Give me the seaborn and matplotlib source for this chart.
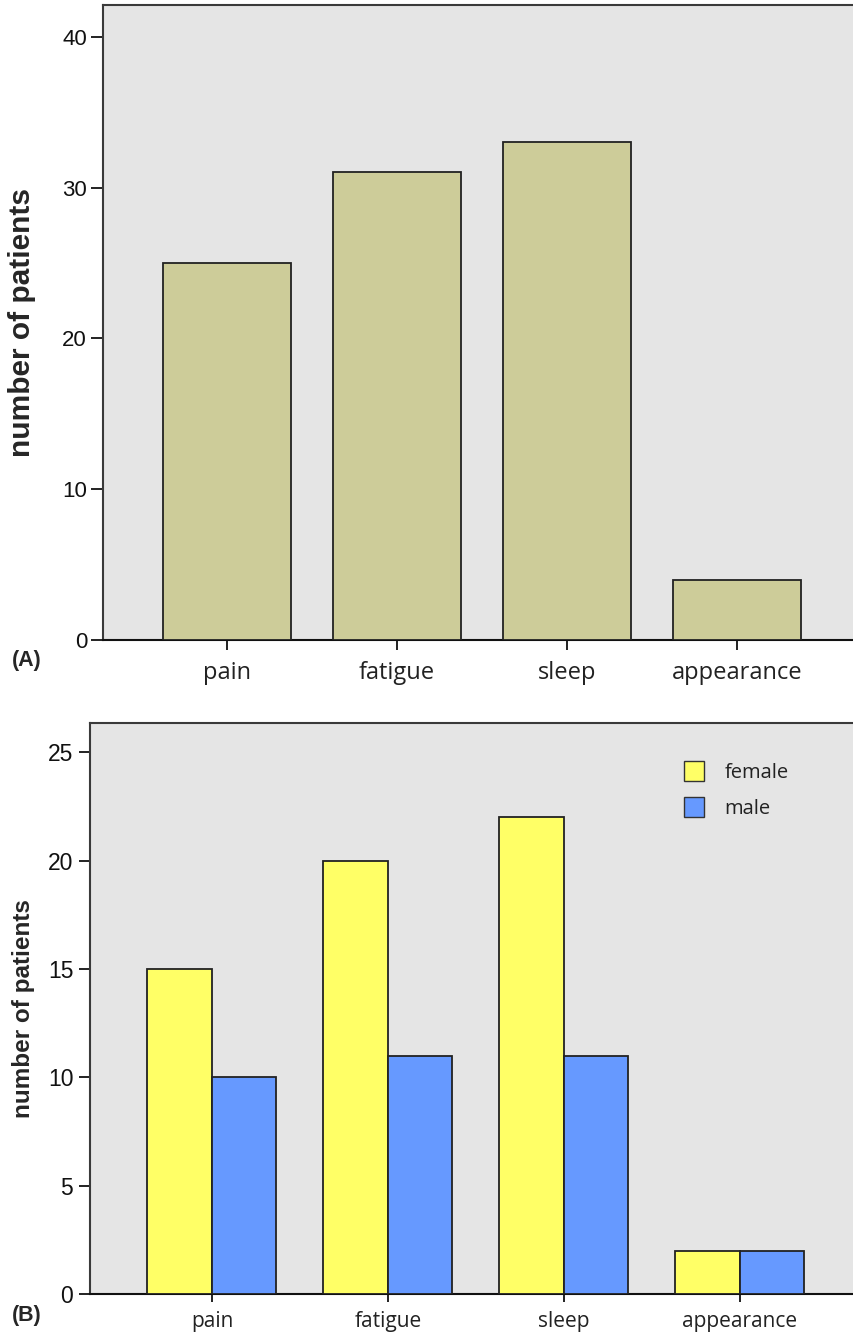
import matplotlib
matplotlib.use("Agg")
import matplotlib.pyplot as plt
import seaborn as sns
import pandas as pd
from matplotlib.patches import Patch

# Symptom counts
categories = ["pain", "fatigue", "sleep", "appearance"]
total_counts = [25, 31, 33, 4]
female_counts = [15, 20, 22, 2]
male_counts = [10, 11, 11, 2]
y_ticks_a = [0, 10, 20, 30, 40]
y_ticks_b = [0, 5, 10, 15, 20, 25]

sns.set_theme(style="white")
plt.rcParams["font.family"] = ["Liberation Sans", "DejaVu Sans"]

bg = "#e5e5e5"
edge = "#222222"
spine_col = "#3a3a3a"

fig = plt.figure(figsize=(8.54, 13.32), dpi=100)
W, H = 854, 1332

def add_ax(left, top, right, bottom):
    return fig.add_axes([left / W, 1 - bottom / H, (right - left) / W, (bottom - top) / H])

ax1 = add_ax(103, 5, 856, 640)
ax2 = add_ax(90, 723, 856, 1294)

for ax in (ax1, ax2):
    ax.set_facecolor(bg)
    for s in ax.spines.values():
        s.set_color(spine_col)
        s.set_linewidth(1.5)
    ax.spines["bottom"].set_color("#111111")

# Panel A: all patients
df_a = pd.DataFrame({"symptom": categories, "n": total_counts})
sns.barplot(data=df_a, x="symptom", y="n", color="#cdcc99", width=0.753,
            edgecolor=edge, linewidth=1.3, saturation=1, ax=ax1, zorder=3)
ax1.set_xlim(-0.73, 3.7)
ax1.set_ylim(0, 42.1)
ax1.set_yticks(y_ticks_a)

# Panel B: split by sex
df_b = pd.DataFrame({
    "symptom": categories * 2,
    "n": female_counts + male_counts,
    "sex": ["female"] * 4 + ["male"] * 4,
})
palette = {"female": "#ffff66", "male": "#6699ff"}
sns.barplot(data=df_b, x="symptom", y="n", hue="sex", palette=palette,
            width=0.733, edgecolor=edge, linewidth=1.3, saturation=1,
            ax=ax2, zorder=3, legend=False)
ax2.set_xlim(-0.693, 3.66)
ax2.set_ylim(0, 26.35)
ax2.set_yticks(y_ticks_b)

# (axis, ylabel size, xtick size, ytick size, ytick len, ytick pad, xtick len, xtick pad)
settings = (
    (ax1, 21.5, 17, 16, 9, 2.5, 7, 8),
    (ax2, 17.5, 15, 16.5, 8, 4, 6, 6),
)
for ax, ylsize, xsize, ytsize, ylen, ypad, xlen, xpad in settings:
    ax.set_xlabel("")
    ax.set_ylabel("number of patients", fontsize=ylsize, fontweight="bold")
    ax.tick_params(axis="y", direction="out", length=ylen, width=1.3,
                   color="#111111", labelsize=ytsize, pad=ypad, left=True)
    ax.tick_params(axis="x", direction="out", length=xlen, width=1.3,
                   color="#111111", pad=xpad, bottom=True)
    for lab in ax.get_xticklabels():
        lab.set_fontfamily(["Open Sans", "DejaVu Sans"])
        lab.set_fontsize(xsize)
        lab.set_color("#222222")
    for lab in ax.get_yticklabels():
        lab.set_color("#111111")
        lab.set_fontsize(ytsize)

ax1.yaxis.set_label_coords(-0.089, 0.5)
ax2.yaxis.set_label_coords(-0.072, 0.5)

handles = [Patch(facecolor=palette["female"], edgecolor="#333333", label="female"),
           Patch(facecolor=palette["male"], edgecolor="#333333", label="male")]
leg = ax2.legend(handles=handles, loc="upper left", bbox_to_anchor=(0.752, 0.965),
                 frameon=False, handlelength=1.0, handleheight=1.15,
                 handletextpad=1.0, labelspacing=0.72,
                 prop={"family": ["Open Sans", "DejaVu Sans"], "size": 14.5})
for t in leg.get_texts():
    t.set_color("#222222")

fig.text(12 / W, 1 - 660 / H, "(A)", fontsize=15.5, fontweight="bold", va="center", ha="left")
fig.text(12 / W, 1 - 1316 / H, "(B)", fontsize=15.5, fontweight="bold", va="center", ha="left")

fig.savefig("out.png", dpi=100, facecolor="white")
